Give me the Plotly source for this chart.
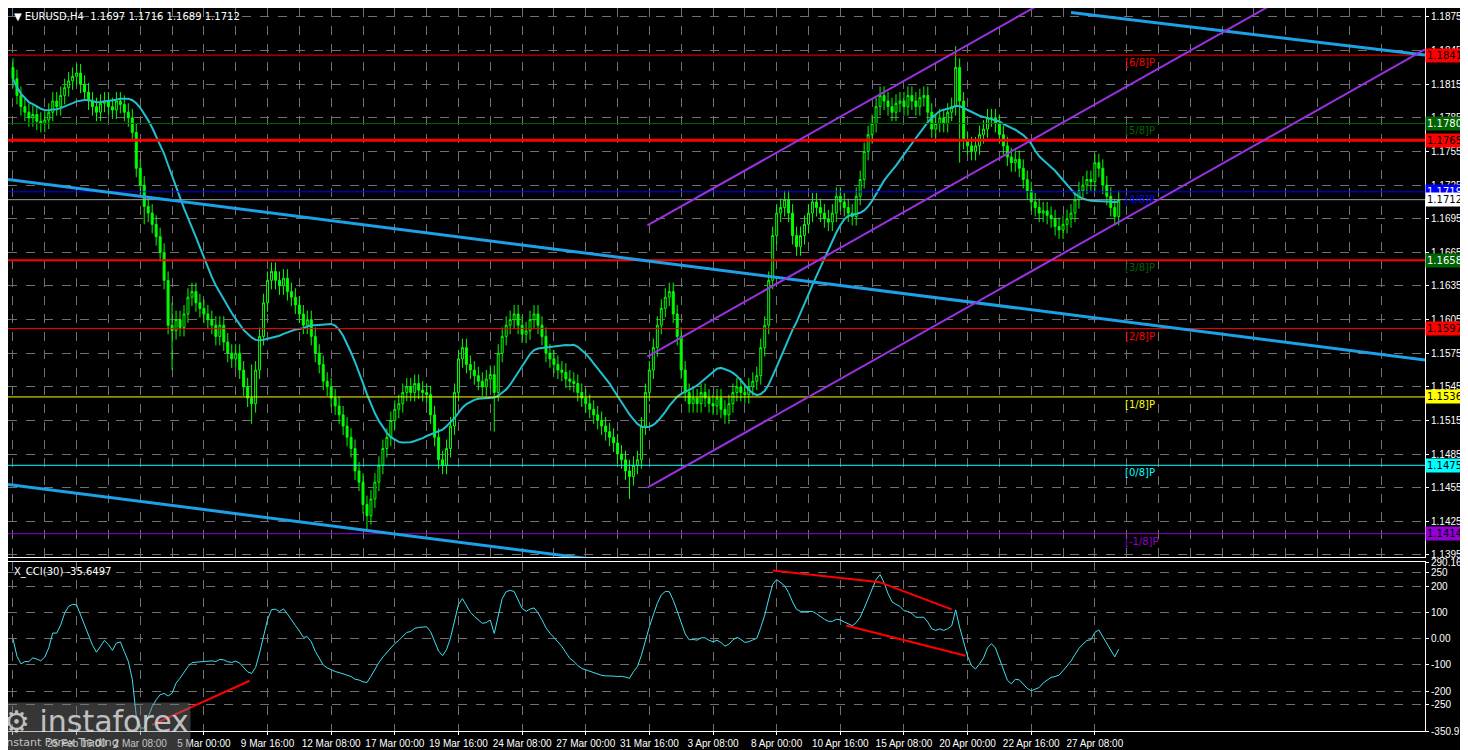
import numpy as np
import pandas as pd
import plotly.graph_objects as go
from plotly.subplots import make_subplots

# H4 closes, one per bar, 23 Feb 2026 00:00 .. 28 Apr 2026 08:00
closes = [
    1.1820, 1.1805, 1.1795, 1.1790, 1.1785, 1.1788, 1.1782, 1.1780,
    1.1783, 1.1790, 1.1800, 1.1795, 1.1805, 1.1812, 1.1818, 1.1822, 1.1825, 1.1815,
    1.1808, 1.1800, 1.1795, 1.1790, 1.1798, 1.1800, 1.1795, 1.1792, 1.1800, 1.1797, 1.1790, 1.1785,
    1.1772, 1.1740, 1.1725, 1.1706, 1.1700, 1.1690, 1.1679, 1.1665, 1.1640,
    1.1600, 1.1595, 1.1605, 1.1598, 1.1610, 1.1625, 1.1630, 1.1620, 1.1615, 1.1610, 1.1605, 1.1600,
    1.1590, 1.1600, 1.1585, 1.1575, 1.1570, 1.1575, 1.1560, 1.1545, 1.1535, 1.1530, 1.1560, 1.1590,
    1.1620, 1.1640, 1.1648, 1.1640, 1.1635, 1.1642, 1.1630, 1.1625, 1.1618, 1.1610, 1.1600, 1.1605, 1.1590,
    1.1575, 1.1565, 1.1550, 1.1545, 1.1535, 1.1528, 1.1520, 1.1510, 1.1500, 1.1490, 1.1470, 1.1460, 1.1440, 1.1430, 1.1445,
    1.1460, 1.1475, 1.1490, 1.1500, 1.1515, 1.1525, 1.1530, 1.1540, 1.1545, 1.1540, 1.1548, 1.1542, 1.1540, 1.1538,
    1.1520, 1.1500, 1.1480, 1.1475, 1.1490, 1.1510, 1.1540, 1.1570, 1.1580, 1.1565, 1.1560,
    1.1555, 1.1550, 1.1545, 1.1552, 1.1556, 1.1540, 1.1575, 1.1590, 1.1600, 1.1605, 1.1610, 1.1600, 1.1592,
    1.1595, 1.1605, 1.1610, 1.1600, 1.1590, 1.1575, 1.1570, 1.1565, 1.1560, 1.1558, 1.1552, 1.1550,
    1.1548, 1.1540, 1.1535, 1.1530, 1.1525, 1.1520, 1.1515, 1.1510, 1.1505, 1.1500, 1.1495, 1.1485, 1.1480, 1.1470, 1.1465, 1.1475,
    1.1480, 1.1510, 1.1540, 1.1560, 1.1580, 1.1600, 1.1615, 1.1625, 1.1630, 1.1610, 1.1590,
    1.1560, 1.1540, 1.1530, 1.1535, 1.1530, 1.1540, 1.1535, 1.1530, 1.1528, 1.1535, 1.1525, 1.1520, 1.1530, 1.1540, 1.1545, 1.1540,
    1.1538, 1.1545, 1.1550, 1.1555, 1.1580, 1.1600, 1.1640, 1.1680, 1.1700, 1.1705,
    1.1712, 1.1700, 1.1680, 1.1670, 1.1680, 1.1690, 1.1700, 1.1710, 1.1705, 1.1700, 1.1695, 1.1692,
    1.1700, 1.1715, 1.1710, 1.1705, 1.1700, 1.1697, 1.1715, 1.1730, 1.1755, 1.1770,
    1.1780, 1.1795, 1.1805, 1.1800, 1.1795, 1.1790, 1.1798, 1.1800, 1.1795, 1.1805, 1.1800, 1.1795, 1.1803, 1.1805,
    1.1790, 1.1775, 1.1780, 1.1785, 1.1780, 1.1790, 1.1795, 1.1830,
    1.1800, 1.1765, 1.1760, 1.1755, 1.1760, 1.1770, 1.1775, 1.1785, 1.1785,
    1.1780, 1.1770, 1.1760, 1.1750, 1.1745, 1.1748, 1.1740, 1.1730, 1.1720,
    1.1710, 1.1705, 1.1700, 1.1702, 1.1698, 1.1695, 1.1688, 1.1685, 1.1690, 1.1695, 1.1700, 1.1712, 1.1720,
    1.1725, 1.1730, 1.1728, 1.1745, 1.1740, 1.1725, 1.1715, 1.1705, 1.1697, 1.1712,
]
first_open = 1.1830
wick = 0.0008
# bars with long shadows: bar index -> (high, low)
spikes = {33: (1.1730, 1.1690), 40: (1.1620, 1.1560), 60: (1.1565, 1.1512), 89: (1.1445, 1.1417),
          121: (1.1560, 1.1505), 155: (1.1480, 1.1445), 237: (1.1849, 1.1790), 238: (1.1830, 1.1745),
          272: (1.1752, 1.1720)}

tick_every = 16
tick_labels = ["23 Feb 2026", "25 Feb 16:00", "2 Mar 08:00", "5 Mar 00:00", "9 Mar 16:00",
               "12 Mar 08:00", "17 Mar 00:00", "19 Mar 16:00", "24 Mar 08:00", "27 Mar 00:00",
               "31 Mar 16:00", "3 Apr 08:00", "8 Apr 00:00", "10 Apr 16:00", "15 Apr 08:00",
               "20 Apr 00:00", "22 Apr 16:00", "27 Apr 08:00"]

price_ticks = [1.1875, 1.1845, 1.1815, 1.1785, 1.1755, 1.1725, 1.1695, 1.1665, 1.1635,
               1.1605, 1.1575, 1.1545, 1.1515, 1.1485, 1.1455, 1.1425, 1.1395]

# Murrey levels: (price, line colour, width, label, label colour, box bg, box text)
levels = [
    (1.1841, "#ff0000", 1, "[6/8]P", "#ff0000", "#ff0000", "black"),
    (1.1780, "#006400", 1, "[5/8]P", "#006400", "#006400", "white"),
    (1.1765, "#ff0000", 3, None, None, "#ff0000", "black"),
    (1.1719, "#0000ff", 1, "[4/8]P", "#0000ff", "#0000ff", "white"),
    (1.1658, "#ff0000", 2, "[3/8]P", "#006400", "#006400", "white"),
    (1.1597, "#ff0000", 1, "[2/8]P", "#ff0000", "#ff0000", "black"),
    (1.1536, "#ffff00", 1, "[1/8]P", "#ffff00", "#ffff00", "black"),
    (1.1475, "#00ffff", 1, "[0/8]P", "#00ffff", "#00ffff", "black"),
    (1.1414, "#9400d3", 1, "[-1/8]P", "#9400d3", "#9400d3", "black"),
]
last_price = 1.1712

# trend lines as (bar0, price0, bar1, price1)
blue_lines = [(-1.25, 1.1730, 355, 1.1569), (-1.25, 1.1458, 355, 1.1296), (266, 1.1879, 355, 1.1841)]
channel = [(159.5, 1.1689, 355, 1.2080), (159.5, 1.1572, 355, 1.1963), (159.5, 1.1455, 355, 1.1846)]
cci_lines = [(191, 259, 218, 214), (218, 214, 236, 111), (209.5, 50, 239.5, -65), (35, -328, 59.5, -160)]

# ---- build OHLC ----
c = np.array(closes)
o = np.concatenate([[first_open], c[:-1]])
h = np.maximum(o, c) + wick
l = np.minimum(o, c) - wick
for i, (hh, ll) in spikes.items():
    h[i] = max(h[i], hh)
    l[i] = min(l[i], ll)
x = np.arange(len(c))
ma = pd.Series(c).rolling(20, min_periods=1).mean()

tp = pd.Series((h + l + c) / 3)
sma = tp.rolling(30, min_periods=1).mean()
md = tp.rolling(30, min_periods=1).apply(lambda s: np.mean(np.abs(s - s.mean())), raw=True)
cci = ((tp - sma) / (0.015 * md.replace(0, np.nan))).fillna(0).clip(-340, 285)

fig = make_subplots(rows=2, cols=1, shared_xaxes=True, row_heights=[0.765, 0.235], vertical_spacing=0.007)

fig.add_trace(go.Candlestick(x=x, open=o, high=h, low=l, close=c,
                             increasing=dict(line=dict(color="#00ff00", width=1), fillcolor="black"),
                             decreasing=dict(line=dict(color="#00ff00", width=1), fillcolor="#00ff00"),
                             whiskerwidth=0, showlegend=False), row=1, col=1)
fig.add_trace(go.Scatter(x=x, y=ma, mode="lines", line=dict(color="#20c0d0", width=2),
                         showlegend=False), row=1, col=1)
fig.add_trace(go.Scatter(x=x, y=cci, mode="lines", line=dict(color="#40e0f0", width=1),
                         showlegend=False), row=2, col=1)

for p, col, w, lab, lcol, bg, fg in levels:
    fig.add_shape(type="line", xref="x", yref="y", x0=-1.25, x1=355, y0=p, y1=p,
                  line=dict(color=col, width=w))
    if lab:
        fig.add_annotation(x=279, y=p, xref="x", yref="y", text=lab, showarrow=False,
                           xanchor="left", yanchor="top", font=dict(color=lcol, size=10))
    fig.add_annotation(x=1.0, y=p, xref="paper", yref="y", text=f"{p:.4f}", showarrow=False,
                       xanchor="left", bgcolor=bg, font=dict(color=fg, size=10), borderpad=1)
fig.add_shape(type="line", xref="x", yref="y", x0=-1.25, x1=355, y0=last_price, y1=last_price,
              line=dict(color="#a0a0a0", width=1))
fig.add_annotation(x=1.0, y=last_price, xref="paper", yref="y", text=f"{last_price:.4f}",
                   showarrow=False, xanchor="left", bgcolor="white", font=dict(color="black", size=10),
                   borderpad=1)

for b0, p0, b1, p1 in blue_lines:
    fig.add_shape(type="line", xref="x", yref="y", x0=b0, y0=p0, x1=b1, y1=p1,
                  line=dict(color="#1ea0e6", width=3))
for b0, p0, b1, p1 in channel:
    fig.add_shape(type="line", xref="x", yref="y", x0=b0, y0=p0, x1=b1, y1=p1,
                  line=dict(color="#9932e0", width=2))
for b0, v0, b1, v1 in cci_lines:
    fig.add_shape(type="line", xref="x2", yref="y2", x0=b0, y0=v0, x1=b1, y1=v1,
                  line=dict(color="#ff0000", width=2))

fig.add_annotation(x=0.003, y=0.999, xref="paper", yref="paper", text="▼ EURUSD,H4  1.1697 1.1716 1.1689 1.1712",
                   showarrow=False, xanchor="left", yanchor="top", font=dict(color="white", size=10))
fig.add_annotation(x=0.003, y=0.231, xref="paper", yref="paper", text="X_CCI(30) -35.6497",
                   showarrow=False, xanchor="left", yanchor="top", font=dict(color="white", size=10))
fig.add_annotation(x=-0.005, y=-0.027, xref="paper", yref="paper",
                   text="<span style='font-size:30px'>⚙ instaforex</span><br>Instant Forex Trading",
                   showarrow=False, xanchor="left", yanchor="bottom", align="left",
                   bgcolor="rgba(120,120,120,0.45)", font=dict(color="rgba(230,230,230,0.8)", size=11))

grid = dict(showgrid=True, gridcolor="#707070", griddash="dash", gridwidth=1)
fig.update_xaxes(range=[-1.25, 355], showline=True, linecolor="white", mirror=True, zeroline=False,
                 rangeslider_visible=False, tickvals=list(range(0, 349, 8)),
                 ticktext=[""] * 44, ticks="", automargin=False, **grid)
fig.update_xaxes(row=2, col=1, tickvals=[i * tick_every for i in range(len(tick_labels))],
                 ticktext=tick_labels, tickfont=dict(color="white", size=10, family="Liberation Sans"),
                 tickangle=0, ticks="outside", ticklen=3, tickcolor="white")
ycommon = dict(side="right", ticks="outside", ticklen=3, tickcolor="white", showline=True,
               linecolor="white", mirror=True, zeroline=False, automargin=False,
               tickfont=dict(color="white", size=10, family="Liberation Sans"))
fig.update_yaxes(row=1, col=1, range=[1.1393, 1.1883], tickvals=price_ticks, tickformat=".4f",
                 **ycommon, **grid)
fig.update_yaxes(row=2, col=1, range=[-350.973, 290.1656],
                 tickvals=[290.1656, 250, 200, 100, 0, -100, -200, -250, -350.973],
                 ticktext=["290.1656", "250", "200", "100", "0.00", "-100", "-200", "-250", "-350.973"],
                 **ycommon, **grid)

# page has an 8px body margin, so the figure is sized to what stays visible
fig.update_layout(width=1460, height=742, paper_bgcolor="black", plot_bgcolor="black",
                  margin=dict(l=0, r=43, t=0, b=19), font=dict(family="DejaVu Sans", color="white"),
                  showlegend=False)
fig.write_html("out.html")
